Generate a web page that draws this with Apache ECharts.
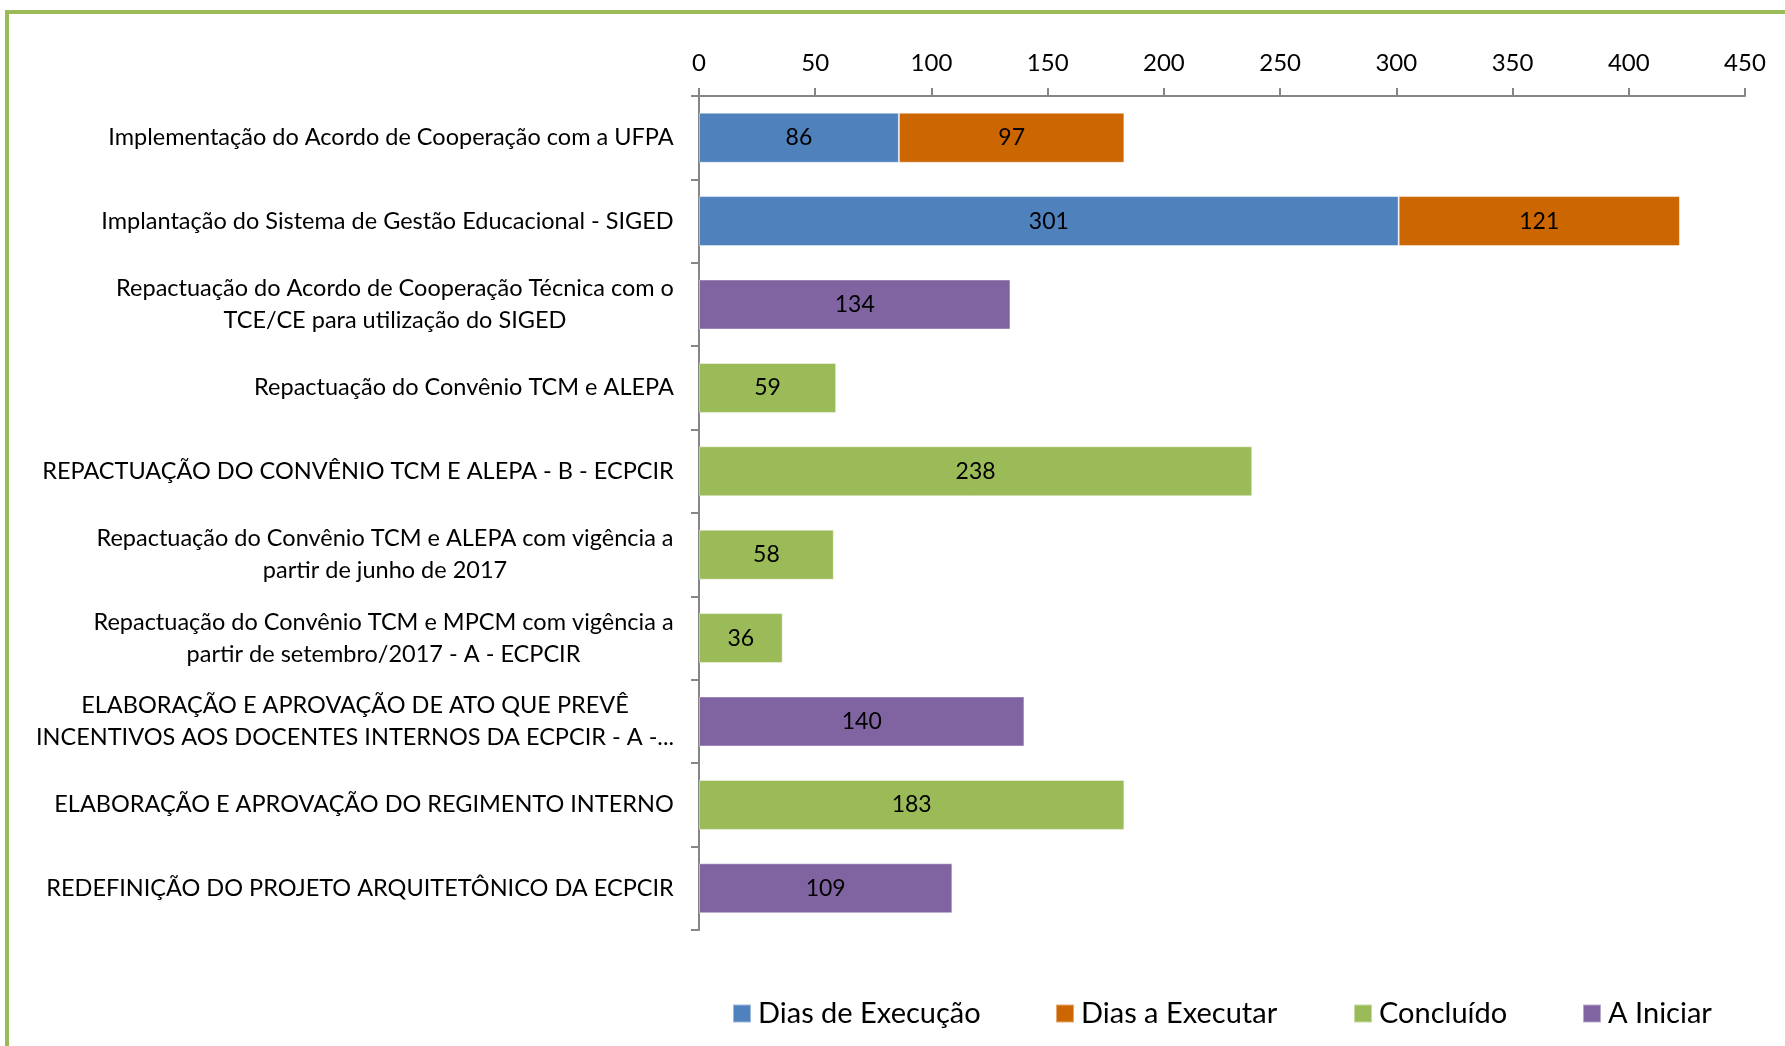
<!DOCTYPE html>
<html>
<head>
<meta charset="utf-8">
<script src="https://cdn.jsdelivr.net/npm/echarts@6/dist/echarts.min.js"></script>
<style>
  html, body { margin: 0; padding: 0; background: #ffffff; }
  #chart { width: 1785px; height: 1046px; }
</style>
</head>
<body>
<div id="chart"></div>
<script>
// Project activities (rows, top to bottom)
const categories = [
  'Implementação do Acordo de Cooperação com a UFPA',
  'Implantação do Sistema de Gestão Educacional - SIGED',
  'Repactuação do Acordo de Cooperação Técnica com o\nTCE/CE para utilização do SIGED',
  'Repactuação do Convênio TCM e ALEPA',
  'REPACTUAÇÃO DO CONVÊNIO TCM E ALEPA - B - ECPCIR',
  'Repactuação do Convênio TCM e ALEPA com vigência a\npartir de junho de 2017',
  'Repactuação do Convênio TCM e MPCM com vigência a\npartir de setembro/2017 - A - ECPCIR',
  'ELABORAÇÃO E APROVAÇÃO DE ATO QUE PREVÊ\nINCENTIVOS AOS DOCENTES INTERNOS DA ECPCIR - A -...',
  'ELABORAÇÃO E APROVAÇÃO DO REGIMENTO INTERNO',
  'REDEFINIÇÃO DO PROJETO ARQUITETÔNICO DA ECPCIR'
];

// Days per status
const diasExecucao = [86, 301, '-', '-', '-', '-', '-', '-', '-', '-'];
const diasExecutar = [97, 121, '-', '-', '-', '-', '-', '-', '-', '-'];
const concluido    = ['-', '-', '-', 59, 238, 58, 36, '-', 183, '-'];
const aIniciar     = ['-', '-', 134, '-', '-', '-', '-', 140, '-', 109];

const seriesNames = ['Dias de Execução', 'Dias a Executar', 'Concluído', 'A Iniciar'];
const seriesColors = ['#4f81bd', '#cc6600', '#9bbb59', '#8064a2'];

// Value axis
const axisMin = 0;
const axisMax = 450;
const axisStep = 50;

const FONT = 'Lato';
const catFontSize = 23.5;
const catLineHeight = 32;

// Multi-line category labels: lines centered against each other, block right-aligned
const measureCtx = document.createElement('canvas').getContext('2d');
measureCtx.font = catFontSize + 'px ' + FONT;
const rich = {};
categories.forEach((c, i) => {
  const w = Math.ceil(Math.max(...c.split('\n').map(l => measureCtx.measureText(l).width)));
  rich['w' + i] = {
    width: w, align: 'center', fontFamily: FONT, fontSize: catFontSize,
    lineHeight: catLineHeight, color: '#000000'
  };
});

const chart = echarts.init(document.getElementById('chart'), null, { renderer: 'canvas' });

const barLabel = {
  show: true, position: 'inside', color: '#000000',
  fontFamily: FONT, fontSize: 23, padding: [4, 0, 0, 0]
};

const dataSets = [diasExecucao, diasExecutar, concluido, aIniciar];
const legendLeft = [732, 1055, 1353, 1582];

chart.setOption({
  backgroundColor: '#ffffff',
  animation: false,
  textStyle: { fontFamily: FONT },
  graphic: [{
    type: 'rect',
    shape: { x: 7, y: 12, width: 1810, height: 1100 },
    style: { fill: 'none', stroke: '#9bbb59', lineWidth: 4 },
    silent: true
  }],
  legend: seriesNames.map((n, i) => ({
    data: [n],
    left: legendLeft[i],
    top: 999,
    padding: 0,
    icon: 'rect',
    itemWidth: 18,
    itemHeight: 18,
    itemGap: 0,
    selectedMode: false,
    textStyle: { fontFamily: FONT, fontSize: 29, color: '#000000', padding: [0, 0, 0, 2] }
  })),
  grid: { left: 699, right: 40, top: 96, bottom: 116, containLabel: false },
  xAxis: {
    type: 'value',
    position: 'top',
    min: axisMin,
    max: axisMax,
    interval: axisStep,
    axisLine: { show: true, lineStyle: { color: '#868686', width: 2 } },
    axisTick: { show: true, inside: false, length: 8, lineStyle: { color: '#868686', width: 2 } },
    axisLabel: { color: '#000000', fontFamily: FONT, fontSize: 24, margin: 21 },
    splitLine: { show: false }
  },
  yAxis: {
    type: 'category',
    inverse: true,
    data: categories,
    axisLine: { show: true, lineStyle: { color: '#868686', width: 2 } },
    axisTick: { show: true, inside: false, length: 8, lineStyle: { color: '#868686', width: 2 } },
    axisLabel: {
      margin: 25,
      align: 'right',
      formatter: (val, idx) => val.split('\n').map(l => '{w' + idx + '|' + l + '}').join('\n'),
      rich: rich
    }
  },
  series: dataSets.map((d, i) => ({
    name: seriesNames[i],
    type: 'bar',
    stack: 'total',
    data: d,
    barWidth: '60%',
    itemStyle: { color: seriesColors[i], borderColor: 'rgba(255,255,255,0.45)', borderWidth: 1 },
    label: barLabel
  }))
});
</script>
</body>
</html>
